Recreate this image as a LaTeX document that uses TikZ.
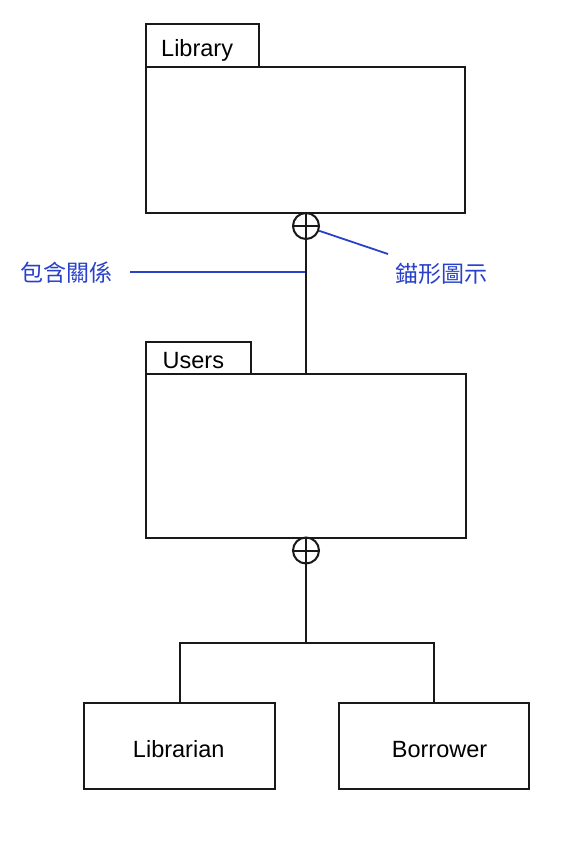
\documentclass[tikz,border=0pt]{standalone}
\usepackage{fontspec}
\setmainfont{Liberation Sans}
\newfontfamily\cjk{Noto Sans CJK TC}
\definecolor{noteblue}{RGB}{40,65,200}
\begin{document}
\begin{tikzpicture}[x=1pt,y=-1pt,
  box/.style={draw=black!90,line width=2pt,rectangle,inner sep=0pt,anchor=north west},
  anchorc/.style={draw=black!90,line width=2pt,circle,inner sep=0pt,minimum size=26pt},
  conn/.style={draw=black!90,line width=2pt},
  note/.style={draw=noteblue,line width=1.8pt},
  lbl/.style={inner sep=0pt,font=\fontsize{23.5}{28}\selectfont},
  cjklbl/.style={inner sep=0pt,text=noteblue,font=\cjk\fontsize{23}{28}\selectfont}]
\useasboundingbox (0,0) rectangle (586,850);
% Library package
\node[box,minimum width=113pt,minimum height=43pt] (libtab) at (145,23) {};
\node[box,minimum width=319pt,minimum height=146pt] (libbody) at (145,66) {};
\node[lbl,anchor=base west] (libtxt) at (161,57) {Library};
% Users package
\node[box,minimum width=105pt,minimum height=32pt] (usrtab) at (145,341) {};
\node[box,minimum width=320pt,minimum height=164pt] (usrbody) at (145,373) {};
\node[lbl,anchor=base west] (usrtxt) at (162.5,368) {Users};
% anchors
\node[anchorc] (anc1) at (306,226) {};
\draw[conn] (anc1.north) -- (anc1.south) (anc1.west) -- (anc1.east);
\node[anchorc] (anc2) at (306,550.5) {};
\draw[conn] (anc2.north) -- (anc2.south) (anc2.west) -- (anc2.east);
% classes
\node[box,minimum width=191pt,minimum height=86pt] (librarian) at (83,702) {};
\node[lbl,anchor=base] (librariantxt) at (178.7,757) {Librarian};
\node[box,minimum width=190pt,minimum height=86pt] (borrower) at (338,702) {};
\node[lbl,anchor=base west] (borrowertxt) at (391.7,757) {Borrower};
% connectors
\draw[conn] (anc1.south) -- (anc1.south |- usrbody.north);
\coordinate (j) at (306,643);
\draw[conn] (anc2.south) -- (j);
\draw[conn] (librarian.north) |- (j) -| (borrower.north);
% notes
\node[cjklbl,anchor=west] (contain) at (20.5,273) {包含關係};
\node[cjklbl,anchor=west] (anchoricon) at (395,274) {錨形圖示};
\coordinate (cp) at (305,272);
\draw[note] (130,272) -- (cp);
\draw[note] (anc1.-20) -- (388,254);
\end{tikzpicture}
\end{document}
